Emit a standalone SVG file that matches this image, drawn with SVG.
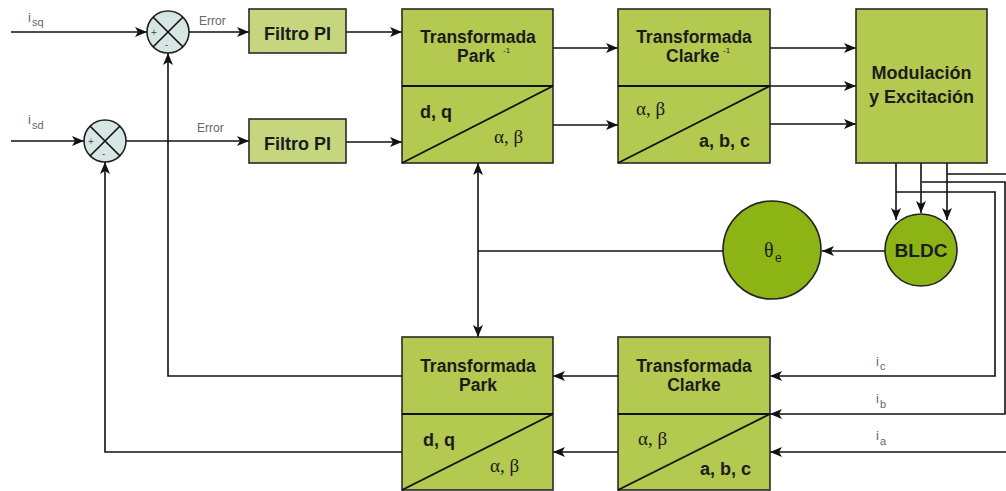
<svg xmlns="http://www.w3.org/2000/svg" width="1006" height="491" viewBox="0 0 1006 491">
<style>
.blk{fill:#b4c94f;stroke:#2a2a2a;stroke-width:1.6}
.pi{fill:#c5d67f;stroke:#2a2a2a;stroke-width:1.6}
.sum{fill:#d6e6e4;stroke:#222;stroke-width:1.6}
.gc{fill:#8cb414;stroke:#222;stroke-width:1.6}
.ln{fill:none;stroke:#111;stroke-width:1.6}
.dv{fill:none;stroke:#111;stroke-width:1.8}
.t{font-family:"Liberation Sans",Arial,sans-serif;font-weight:bold;font-size:18px;fill:#1c1c1c}
.h{font-family:"Liberation Sans",Arial,sans-serif;font-weight:bold;font-size:17.5px;fill:#1c1c1c}
.g{font-family:"Liberation Sans",Arial,sans-serif;font-size:13px;fill:#666}
.gs{font-family:"Liberation Sans",Arial,sans-serif;font-size:11px;fill:#666}
.s{font-family:"Liberation Serif","Times New Roman",serif;font-size:19px;fill:#1c1c1c}
.sup{font-family:"Liberation Sans",Arial,sans-serif;font-size:8px;fill:#1c1c1c}
.pm{font-family:"Liberation Sans",Arial,sans-serif;font-size:10px;fill:#555}
</style>
<defs>
<marker id="ah" viewBox="0 0 12 10" refX="12" refY="5" markerWidth="12" markerHeight="10" markerUnits="userSpaceOnUse" orient="auto-start-reverse">
<path d="M0,0 L12,5 L0,10 L3,5 z" fill="#111"/>
</marker>
</defs>
<rect width="1006" height="491" fill="#fff"/>

<g id="connectors">
<line class="ln" x1="11" y1="32" x2="147" y2="32" marker-end="url(#ah)"/>
<line class="ln" x1="189" y1="32" x2="249" y2="32" marker-end="url(#ah)"/>
<line class="ln" x1="346" y1="32" x2="402" y2="32" marker-end="url(#ah)"/>
<line class="ln" x1="11" y1="141" x2="84" y2="141" marker-end="url(#ah)"/>
<line class="ln" x1="126" y1="141" x2="249" y2="141" marker-end="url(#ah)"/>
<line class="ln" x1="346" y1="142" x2="402" y2="142" marker-end="url(#ah)"/>
<line class="ln" x1="553" y1="48" x2="618" y2="48" marker-end="url(#ah)"/>
<line class="ln" x1="553" y1="125" x2="618" y2="125" marker-end="url(#ah)"/>
<line class="ln" x1="770" y1="48" x2="856" y2="48" marker-end="url(#ah)"/>
<line class="ln" x1="770" y1="86" x2="856" y2="86" marker-end="url(#ah)"/>
<line class="ln" x1="770" y1="124" x2="856" y2="124" marker-end="url(#ah)"/>
<line class="ln" x1="896" y1="163" x2="896" y2="220" marker-end="url(#ah)"/>
<line class="ln" x1="921" y1="163" x2="921" y2="213" marker-end="url(#ah)"/>
<line class="ln" x1="947" y1="163" x2="947" y2="220" marker-end="url(#ah)"/>
<polyline class="ln" points="947,174 1010,174"/>
<polyline class="ln" points="922,182 1005,182 1005,414 770,414" marker-end="url(#ah)"/>
<polyline class="ln" points="896,192 995,192 995,376 770,376" marker-end="url(#ah)"/>
<polyline class="ln" points="1010,452 770,452" marker-end="url(#ah)"/>
<line class="ln" x1="885" y1="251" x2="822" y2="251" marker-end="url(#ah)"/>
<line class="ln" x1="723" y1="251" x2="478" y2="251"/>
<line class="ln" x1="478" y1="163" x2="478" y2="337" marker-start="url(#ah)" marker-end="url(#ah)"/>
<line class="ln" x1="618" y1="376" x2="553" y2="376" marker-end="url(#ah)"/>
<line class="ln" x1="618" y1="452" x2="553" y2="452" marker-end="url(#ah)"/>
<polyline class="ln" points="402,376 168,376 168,53" marker-end="url(#ah)"/>
<polyline class="ln" points="402,452 105,452 105,162" marker-end="url(#ah)"/>
</g>

<g id="labels">
<text class="g" x="28" y="22">i</text><text class="gs" x="32" y="26">sq</text>
<text class="g" x="28" y="124">i</text><text class="gs" x="32" y="129">sd</text>
<text class="g" x="199" y="25" style="font-size:12px">Error</text>
<text class="g" x="197" y="132" style="font-size:12px">Error</text>
<text class="g" x="876" y="366">i</text><text class="gs" x="880" y="370">c</text>
<text class="g" x="876" y="403">i</text><text class="gs" x="880" y="408">b</text>
<text class="g" x="876" y="440">i</text><text class="gs" x="880" y="445">a</text>
</g>

<g id="sum1">
<circle class="sum" cx="168" cy="32" r="21"/>
<line class="ln" x1="153.2" y1="17.2" x2="182.8" y2="46.8"/>
<line class="ln" x1="182.8" y1="17.2" x2="153.2" y2="46.8"/>
<text class="pm" x="151" y="36">+</text>
<text class="pm" x="165" y="48">-</text>
</g>
<g id="sum2">
<circle class="sum" cx="105" cy="141" r="21"/>
<line class="ln" x1="90.2" y1="126.2" x2="119.8" y2="155.8"/>
<line class="ln" x1="119.8" y1="126.2" x2="90.2" y2="155.8"/>
<text class="pm" x="88" y="145">+</text>
<text class="pm" x="102" y="157">-</text>
</g>

<g id="filtro1">
<rect class="pi" x="249" y="9" width="97" height="44"/>
<text class="t" x="297.5" y="40" text-anchor="middle">Filtro PI</text>
</g>
<g id="filtro2">
<rect class="pi" x="249" y="119" width="97" height="44"/>
<text class="t" x="297.5" y="150" text-anchor="middle">Filtro PI</text>
</g>

<g id="parkinv">
<rect class="blk" x="402" y="9" width="151" height="154"/>
<line class="dv" x1="402" y1="86" x2="553" y2="86"/>
<line class="dv" x1="402" y1="163" x2="553" y2="86"/>
<text class="h" x="478" y="43" text-anchor="middle">Transformada</text>
<text class="h" x="457" y="62">Park</text>
<text class="sup" x="503" y="53">-1</text>
<text class="t" x="420" y="118">d, q</text>
<text class="s" x="494" y="143">α, β</text>
</g>

<g id="clarkeinv">
<rect class="blk" x="618" y="9" width="152" height="154"/>
<line class="dv" x1="618" y1="86" x2="770" y2="86"/>
<line class="dv" x1="618" y1="163" x2="770" y2="86"/>
<text class="h" x="694" y="43" text-anchor="middle">Transformada</text>
<text class="h" x="666" y="62">Clarke</text>
<text class="sup" x="723" y="53">-1</text>
<text class="s" x="636" y="115">α, β</text>
<text class="t" x="699" y="147">a, b, c</text>
</g>

<g id="modulacion">
<rect class="blk" x="856" y="9" width="131" height="154"/>
<text class="t" x="921.5" y="79" text-anchor="middle">Modulación</text>
<text class="t" x="921.5" y="103" text-anchor="middle">y Excitación</text>
</g>

<g id="bldc">
<circle class="gc" cx="921" cy="250" r="36"/>
<text class="t" x="921" y="257" text-anchor="middle" style="font-size:19px">BLDC</text>
</g>

<g id="theta">
<circle class="gc" cx="772" cy="250" r="49"/>
<text class="s" x="764" y="257" style="font-size:20px">θ</text>
<text class="g" x="775" y="262" style="fill:#1c1c1c;font-size:12px">e</text>
</g>

<g id="park">
<rect class="blk" x="402" y="337" width="151" height="153"/>
<line class="dv" x1="402" y1="414" x2="553" y2="414"/>
<line class="dv" x1="402" y1="490" x2="553" y2="414"/>
<text class="h" x="478" y="372" text-anchor="middle">Transformada</text>
<text class="h" x="478" y="391" text-anchor="middle">Park</text>
<text class="t" x="423" y="446">d, q</text>
<text class="s" x="490" y="472">α, β</text>
</g>

<g id="clarke">
<rect class="blk" x="618" y="337" width="152" height="153"/>
<line class="dv" x1="618" y1="414" x2="770" y2="414"/>
<line class="dv" x1="618" y1="490" x2="770" y2="414"/>
<text class="h" x="694" y="372" text-anchor="middle">Transformada</text>
<text class="h" x="694" y="391" text-anchor="middle">Clarke</text>
<text class="s" x="638" y="445">α, β</text>
<text class="t" x="700" y="475">a, b, c</text>
</g>
</svg>
